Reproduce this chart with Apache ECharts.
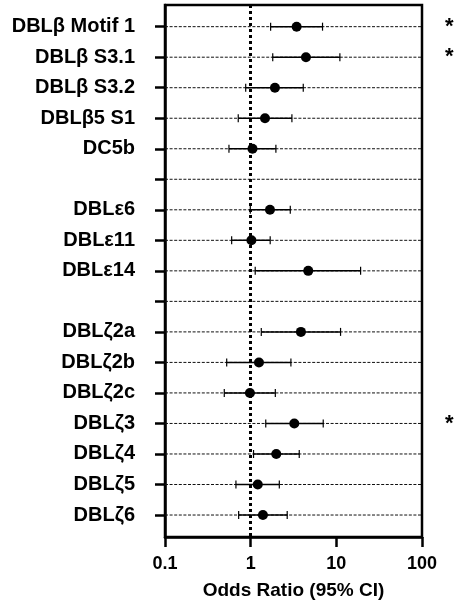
<!DOCTYPE html>
<html>
<head>
<meta charset="utf-8">
<script src="https://cdn.jsdelivr.net/npm/echarts@6/dist/echarts.min.js"></script>
<style>
  html, body { margin: 0; padding: 0; background: #fff; }
  #forest-chart { width: 456px; height: 605px; }
</style>
</head>
<body>
<div id="forest-chart"></div>
<script>
// rows from top to bottom, empty strings are spacer rows
var categories = [
  "DBLβ Motif 1", "DBLβ S3.1", "DBLβ S3.2", "DBLβ5 S1", "DC5b", "",
  "DBLε6", "DBLε11", "DBLε14", "",
  "DBLζ2a", "DBLζ2b", "DBLζ2c", "DBLζ3", "DBLζ4", "DBLζ5", "DBLζ6"
];
var oddsRatio = [3.44, 4.42, 1.92, 1.47, 1.05, null, 1.68, 1.02, 4.70, null, 3.86, 1.25, 0.98, 3.23, 1.99, 1.21, 1.39];
var ciLower = [1.71, 1.81, 0.875, 0.716, 0.558, null, 0.99, 0.60, 1.13, null, 1.33, 0.525, 0.492, 1.50, 1.08, 0.673, 0.724];
var ciUpper = [6.9, 11.0, 4.11, 3.03, 1.97, null, 2.90, 1.69, 19.2, null, 11.2, 2.95, 1.94, 7.03, 3.69, 2.16, 2.67];
var starMarks = ["*", "*", "", "", "", "", "", "", "", "", "", "", "", "*", "", "", ""];
var xTicks = [0.1, 1, 10, 100];

var font = "'Liberation Sans', Arial, sans-serif";
var rowIdx = categories.map(function (c, i) { return i; });
var xMin = xTicks[0];
var xMax = xTicks[xTicks.length - 1];

var chartDom = document.getElementById("forest-chart");
var myChart = echarts.init(chartDom);

// data for the series
var pointData = [];
var barData = [];
rowIdx.forEach(function (i) {
  if (oddsRatio[i] != null) {
    pointData.push([oddsRatio[i], i]);
    barData.push([ciLower[i], ciUpper[i], i]);
  }
});
var guideData = rowIdx.map(function (i) { return [xMin, xMax, i]; });

var option = {
  animation: false,
  grid: {
    left: 165, right: 34, top: 5, bottom: 68,
    show: true, borderColor: "#000", borderWidth: 2.5,
    outerBoundsMode: "none"
  },
  xAxis: {
    type: "log", logBase: 10, min: xMin, max: xMax,
    name: "Odds Ratio (95% CI)", nameLocation: "middle", nameGap: 44,
    nameTextStyle: { fontFamily: font, fontWeight: "bold", fontSize: 19, color: "#000" },
    axisLine: { onZero: false, lineStyle: { color: "#000", width: 2.5 } },
    axisTick: { length: 10, lineStyle: { color: "#000", width: 2.5 } },
    axisLabel: { fontFamily: font, fontWeight: "bold", fontSize: 18, color: "#000", margin: 18 },
    minorTick: { show: false },
    splitLine: { show: false }
  },
  yAxis: [
    {
      type: "value", inverse: true, min: -0.71, max: 16.72,
      axisLine: { show: true, onZero: false, lineStyle: { color: "#000", width: 2.5 } },
      axisTick: { show: true, length: 10, customValues: rowIdx, lineStyle: { color: "#000", width: 2.5 } },
      axisLabel: {
        customValues: rowIdx, margin: 30,
        fontFamily: font, fontWeight: "bold", fontSize: 20, color: "#000",
        formatter: function (v) { return categories[v] || ""; }
      },
      splitLine: { show: false }
    },
    {
      type: "value", inverse: true, min: -0.71, max: 16.72, position: "right",
      axisLine: { show: false }, axisTick: { show: false }, splitLine: { show: false },
      axisLabel: {
        customValues: rowIdx.filter(function (i) { return starMarks[i]; }), margin: 23,
        fontFamily: font, fontWeight: "bold", fontSize: 22, color: "#000",
        formatter: function (v) { return starMarks[v]; }
      }
    }
  ],
  series: [
    {
      // dashed row guides
      type: "custom", silent: true, z: 1,
      data: guideData,
      encode: { x: [0, 1], y: 2 },
      renderItem: function (params, api) {
        var a = api.coord([api.value(0), api.value(2)]);
        var b = api.coord([api.value(1), api.value(2)]);
        return {
          type: "line",
          shape: { x1: a[0], y1: a[1], x2: b[0], y2: b[1] },
          style: { stroke: "#111", lineWidth: 1, lineDash: [3, 1.6] }
        };
      }
    },
    {
      // confidence intervals
      type: "custom", z: 3,
      data: barData,
      encode: { x: [0, 1], y: 2 },
      renderItem: function (params, api) {
        var y = api.value(2);
        var lo = api.coord([api.value(0), y]);
        var hi = api.coord([api.value(1), y]);
        var cap = 4;
        return {
          type: "group",
          children: [
            { type: "line", shape: { x1: lo[0], y1: lo[1], x2: hi[0], y2: hi[1] }, style: { stroke: "#000", lineWidth: 1.5 } },
            { type: "line", shape: { x1: lo[0], y1: lo[1] - cap, x2: lo[0], y2: lo[1] + cap }, style: { stroke: "#000", lineWidth: 1.2 } },
            { type: "line", shape: { x1: hi[0], y1: hi[1] - cap, x2: hi[0], y2: hi[1] + cap }, style: { stroke: "#000", lineWidth: 1.2 } }
          ]
        };
      }
    },
    {
      type: "scatter", z: 4,
      data: pointData,
      symbol: "circle", symbolSize: 10,
      itemStyle: { color: "#000", opacity: 1 },
      markLine: {
        silent: true, symbol: "none", z: 2,
        label: { show: false },
        lineStyle: { color: "#000", width: 3, type: [3, 3], opacity: 1 },
        data: [{ xAxis: 1 }]
      }
    }
  ]
};

option && myChart.setOption(option);
</script>
</body>
</html>
